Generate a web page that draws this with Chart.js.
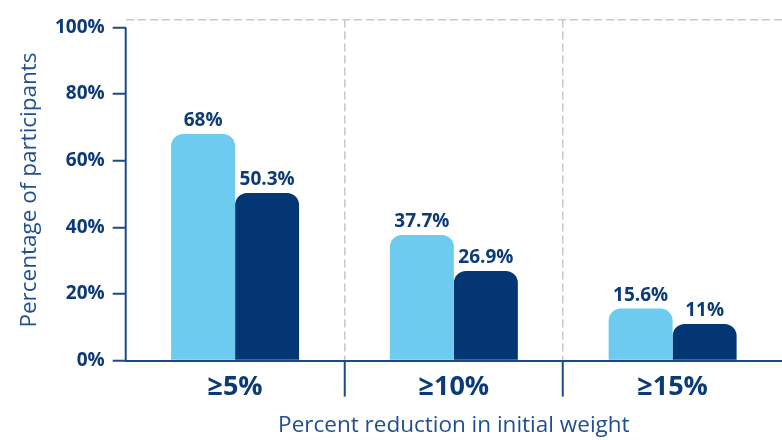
<!DOCTYPE html>
<html>
<head>
<meta charset="utf-8">
<script src="https://cdn.jsdelivr.net/npm/chart.js@4.4.1/dist/chart.umd.min.js"></script>
<style>
  html, body { margin: 0; padding: 0; background: #fff; }
  #wrap { width: 782px; height: 440px; position: relative; }
</style>
</head>
<body>
<div id="wrap"><canvas id="weightChart"></canvas></div>
<script>
const categories = ['≥5%', '≥10%', '≥15%'];
const lightValues = [68, 37.7, 15.6];
const darkValues = [50.3, 26.9, 11];
const yTicks = [0, 20, 40, 60, 80, 100];

const navy = '#0b3a78';
const lineNavy = '#1c4a86';
const titleBlue = '#1f4f8f';
const dashGrey = '#c8c8c8';

// value labels above the bars + the y axis line (only from 0 to 100)
const extras = {
  id: 'extras',
  afterDatasetsDraw(chart) {
    const ctx = chart.ctx;
    ctx.save();
    ctx.font = 'bold 19px "Open Sans"';
    ctx.fillStyle = navy;
    ctx.textAlign = 'center';
    ctx.textBaseline = 'bottom';
    chart.data.datasets.forEach((ds, i) => {
      chart.getDatasetMeta(i).data.forEach((bar, j) => {
        ctx.fillText(ds.data[j] + '%', bar.x, bar.y - 4);
      });
    });
    const y = chart.scales.y;
    ctx.strokeStyle = lineNavy;
    ctx.lineWidth = 2;
    ctx.beginPath();
    ctx.moveTo(y.right, y.getPixelForValue(100));
    ctx.lineTo(y.right, y.getPixelForValue(0));
    ctx.stroke();
    ctx.restore();
  }
};

new Chart(document.getElementById('weightChart'), {
  type: 'bar',
  data: {
    labels: categories,
    datasets: [
      {
        data: lightValues,
        backgroundColor: '#6dcbef',
        borderRadius: { topLeft: 12, topRight: 12 },
        borderSkipped: 'bottom'
      },
      {
        data: darkValues,
        backgroundColor: '#043673',
        borderRadius: { topLeft: 12, topRight: 12 },
        borderSkipped: 'bottom'
      }
    ]
  },
  options: {
    responsive: true,
    maintainAspectRatio: false,
    animation: false,
    layout: { padding: { left: 16, right: 0, top: 9, bottom: 1 } },
    plugins: { legend: { display: false }, tooltip: { enabled: false } },
    datasets: { bar: { barPercentage: 1, categoryPercentage: 0.585 } },
    scales: {
      x: {
        offset: true,
        grid: {
          offset: true,
          color: c => (c.index === 1 || c.index === 2) ? dashGrey : 'transparent',
          lineWidth: 1.5,
          tickColor: c => (c.index === 1 || c.index === 2) ? lineNavy : 'transparent',
          tickWidth: 2,
          tickLength: 36,
          tickBorderDash: []
        },
        border: { display: true, color: lineNavy, width: 2, dash: [8, 4] },
        ticks: {
          color: navy,
          font: { family: 'Open Sans', size: 27, weight: 'bold' },
          padding: -25
        },
        title: {
          display: true,
          text: 'Percent reduction in initial weight',
          color: titleBlue,
          font: { family: 'Open Sans', size: 22.5 },
          padding: { top: 33, bottom: 0 }
        }
      },
      y: {
        min: 0,
        max: 102.4,
        afterBuildTicks: s => { s.ticks = yTicks.map(v => ({ value: v })).concat([{ value: s.max }]); },
        grid: {
          color: c => c.tick && c.tick.value > 100 ? dashGrey : 'transparent',
          lineWidth: 1.5,
          tickColor: c => c.tick && c.tick.value > 100 ? 'transparent' : lineNavy,
          tickWidth: 2,
          tickLength: 13,
          tickBorderDash: []
        },
        border: { display: false, dash: [8, 4] },
        ticks: {
          color: navy,
          font: { family: 'Open Sans', size: 19, weight: 'bold' },
          padding: 8,
          callback: v => v > 100 ? '' : v + '%'
        },
        title: {
          display: true,
          text: 'Percentage of participants',
          color: titleBlue,
          font: { family: 'Open Sans', size: 22.5 },
          padding: { top: 0, bottom: 4 }
        }
      }
    }
  },
  plugins: [extras]
});
</script>
</body>
</html>
